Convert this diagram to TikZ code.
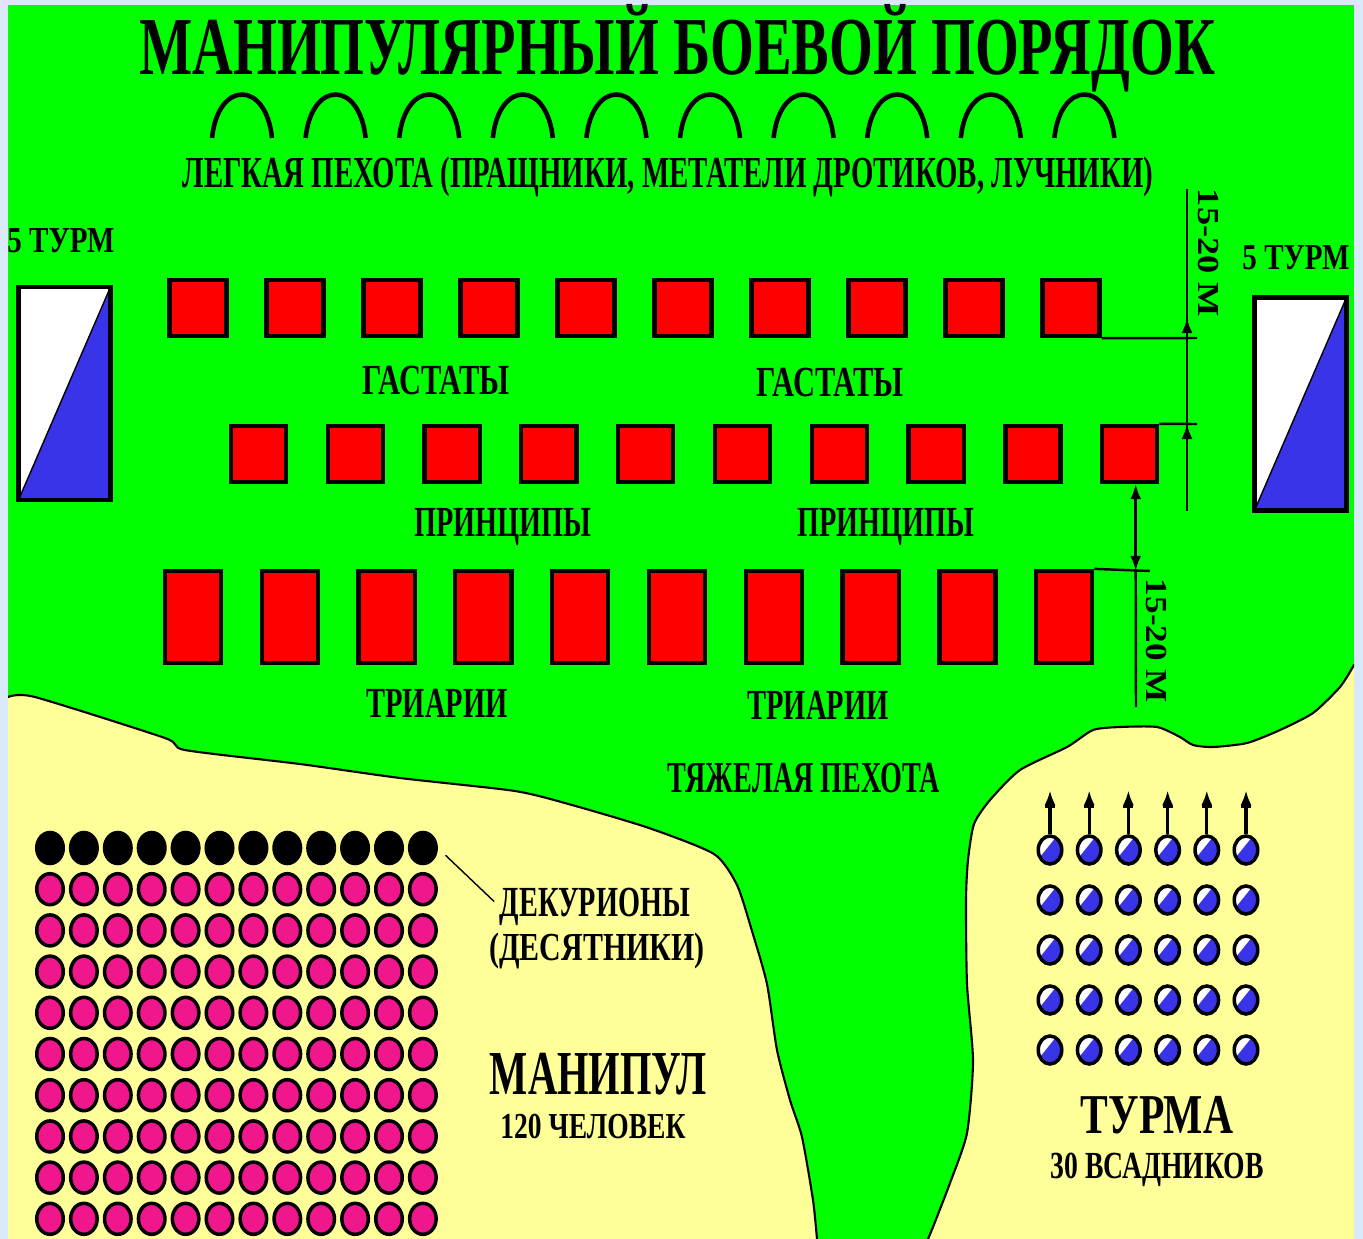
\documentclass[tikz,border=0pt]{standalone}
\usepackage{fontspec}
\usepackage{graphicx}
\usetikzlibrary{arrows.meta,shapes.geometric}
\newfontfamily\rufont{Liberation Serif}
\definecolor{cgreen}{RGB}{0,255,0}
\definecolor{csand}{RGB}{255,255,153}
\definecolor{cpink}{RGB}{240,22,140}
\definecolor{cblue}{RGB}{58,52,232}
\definecolor{cback}{RGB}{218,233,250}

\begin{document}
\begin{tikzpicture}[>={Latex[length=1.5mm,width=1.1mm]}, x=0.01cm, y=-0.01cm,
                    lbl/.style={font=\rufont\bfseries, inner sep=0pt, anchor=base},
                    manip/.style={draw, fill=red, line width=1.2pt, inner sep=0pt},
                    hast/.style={manip, minimum width=0.57cm, minimum height=0.56cm},
                    princ/.style={manip, minimum width=0.55cm, minimum height=0.56cm},
                    triar/.style={manip, minimum width=0.56cm, minimum height=0.92cm},
                    man/.style={ellipse, draw, line width=1pt, inner sep=0pt,
                                minimum width=0.265cm, minimum height=0.31cm},
                    rider/.style={ellipse, draw, line width=1pt, fill=cblue, inner sep=0pt,
                                  minimum width=0.235cm, minimum height=0.28cm,
                                  path picture={\fill[white] (path picture bounding box.north west)
                                    -- ([xshift=-0.5mm]path picture bounding box.north east)
                                    -- ([yshift=0.5mm]path picture bounding box.south west) -- cycle;}},
                    turm/.style={draw, fill=white, line width=1.2pt, inner sep=0pt,
                                 minimum width=0.92cm, minimum height=2.13cm,
                                 path picture={\fill[cblue] (path picture bounding box.north east)
                                    -- (path picture bounding box.south east)
                                    -- (path picture bounding box.south west) -- cycle;
                                    \draw[thin] (path picture bounding box.north east)
                                    -- (path picture bounding box.south west);}},
                    meas/.style={line width=0.7pt},
                    arch/.style={line width=1.3pt}]
  \def\fitw#1#2#3{\fontsize{#2}{#2}\selectfont\resizebox{#1}{\height}{#3}}
  % slide background and field
  \fill[cback] (0,0) rectangle (1363,1239);
  \useasboundingbox (0,0) rectangle (1363,1239);
  \fill[cgreen] (8,5) rectangle (1354,1239);
  \begin{scope}
    \clip (8,5) rectangle (1354,1239);
    \filldraw[fill=csand, line width=0.6pt] (-20,697) -- plot[smooth, tension=0.4] coordinates {
      (8,697) (35,697) (165,738) (185,750) (300,764) (400,778) (515,791) (572,805)
      (649,828) (714,854) (737,885) (752,931) (767,984) (777,1050) (790,1100)
      (802,1137) (813,1200) (817,1239)} -- (825,1300) -- (-20,1300) -- cycle;
    \filldraw[fill=csand, line width=0.6pt] (920,1300) -- plot[smooth, tension=0.4] coordinates {
      (928,1239) (933,1227) (950,1183) (967,1133) (973,1061) (967,984) (966,900)
      (968,860) (974,824) (990,800) (1020,770) (1067,747) (1093,730) (1120,727)
      (1157,727) (1180,737) (1193,745) (1213,747) (1247,743) (1280,730) (1313,713)
      (1340,687) (1354,665)} -- (1400,640) -- (1400,1300) -- cycle;
  \end{scope}
  % titles
  \node[lbl] (title) at (677,74) {\fitw{10.75cm}{23.4pt}{МАНИПУЛЯРНЫЙ БОЕВОЙ ПОРЯДОК}};
  \node[lbl] (light) at (668,187) {\fitw{9.70cm}{12.6pt}{ЛЕГКАЯ ПЕХОТА (ПРАЩНИКИ, МЕТАТЕЛИ ДРОТИКОВ, ЛУЧНИКИ)}};
  % light infantry
  \foreach \i in {0,...,9} {
    \pgfmathsetmacro{\ax}{242+93.6*\i}
    \draw[arch] (\ax-30,138) .. controls (\ax-24,80) and (\ax+24,80) .. (\ax+30,138);
  }
  % three lines of maniples
  \foreach \i in {1,...,10} {
    \node[hast] (h\i) at ({198+97*(\i-1)},308) {};
    \node[princ] (p\i) at ({258.5+96.8*(\i-1)},454) {};
    \node[triar] (t\i) at ({193+96.8*(\i-1)},617) {};
  }
  \node[lbl] (gast1) at (436,394) {\fitw{1.47cm}{12.2pt}{ГАСТАТЫ}};
  \node[lbl] (gast2) at (830,396) {\fitw{1.47cm}{12.2pt}{ГАСТАТЫ}};
  \node[lbl] (prin1) at (503,536) {\fitw{1.77cm}{12.2pt}{ПРИНЦИПЫ}};
  \node[lbl] (prin2) at (886,536) {\fitw{1.77cm}{12.2pt}{ПРИНЦИПЫ}};
  \node[lbl] (tria1) at (437,717) {\fitw{1.41cm}{12.2pt}{ТРИАРИИ}};
  \node[lbl] (tria2) at (818,719) {\fitw{1.41cm}{12.2pt}{ТРИАРИИ}};
  \node[lbl] (heavy) at (804,792) {\fitw{2.72cm}{12.6pt}{ТЯЖЕЛАЯ ПЕХОТА}};
  % cavalry on the wings
  \node[turm] (turL) at (64.5,393.5) {};
  \node[turm] (turR) at (1300.5,404) {};
  \node[lbl] (turLt) at (61,252) {\fitw{1.07cm}{10.4pt}{5 ТУРМ}};
  \node[lbl] (turRt) at (1296,269) {\fitw{1.07cm}{10.4pt}{5 ТУРМ}};
  % distances between the lines
  \coordinate (hq) at (1197,338);
  \coordinate (pq) at (1197,424);
  \coordinate (tq) at (1150,571);
  \coordinate (a1) at (1187,189);
  \coordinate (a2) at (1187,511);
  \coordinate (b1) at ([xshift=0.06cm]p10.south);
  \coordinate (b2) at (1136,707);
  \draw[meas] (h10.south east) -- (hq);
  \draw[meas] (p10.north east) -- (pq);
  \draw[meas] (t10.north east) -- (tq);
  \draw[meas] (a1) -- (a2);
  \draw[meas, ->] (hq -| a1) -- ++(0,-20);
  \draw[meas, <-] (pq -| a1) -- ++(0,20);
  \draw[meas, <->] (b1) -- (tq -| b1);
  \draw[meas] (tq -| b1) -- (b2);
  \node[lbl, rotate=-90] (dist1) at (1198,253) {\fitw{1.28cm}{8.7pt}{15-20 М}};
  \node[lbl, rotate=-90] (dist2) at (1146,641) {\fitw{1.24cm}{8.7pt}{15-20 М}};
  % maniple: 12 x 10 men, decurions in front
  \foreach \c in {1,...,12} {
    \node[man, fill=black] (d\c) at ({50+33.9*(\c-1)},848) {};
    \foreach \r in {1,...,9}
      \node[man, fill=cpink] (m\c-\r) at ({50+33.9*(\c-1)},{848+41.2*\r}) {};
  }
  \node[lbl] (dek) at (595,916) {\fitw{1.90cm}{12.2pt}{ДЕКУРИОНЫ}};
  \node[lbl] (des) at (597,960) {\fitw{2.15cm}{11.3pt}{(ДЕСЯТНИКИ)}};
  \draw[thin, shorten <=3pt, shorten >=2pt] (d12.east) -- (dek.west);
  \node[lbl] (manip) at (598,1094) {\fitw{2.16cm}{17.8pt}{МАНИПУЛ}};
  \node[lbl] (men) at (593,1138) {\fitw{1.85cm}{10.4pt}{120 ЧЕЛОВЕК}};
  % turma: 6 x 5 riders, lances in front
  \foreach \c in {1,...,6} {
    \foreach \r in {1,...,5}
      \node[rider] (r\c-\r) at ({1050+39.2*(\c-1)},{850+50*(\r-1)}) {};
    \draw[line width=0.9pt, ->] (r\c-1.north) -- ++(0,-44);
    \draw[line width=0.9pt] ([xshift=-0.5mm,yshift=2.8mm]r\c-1.north) -- ++(10,0);
  }
  \node[lbl] (turma) at (1157,1133) {\fitw{1.52cm}{16pt}{ТУРМА}};
  \node[lbl] (riders) at (1157,1178) {\fitw{2.13cm}{10.9pt}{30 ВСАДНИКОВ}};
\end{tikzpicture}
\end{document}
